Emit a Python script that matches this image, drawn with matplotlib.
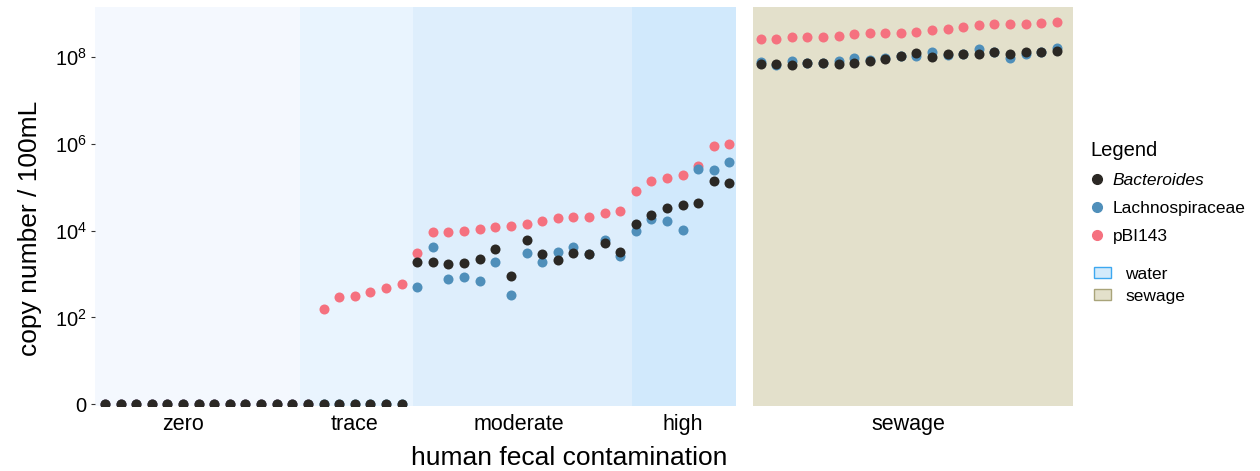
import numpy as np
import matplotlib
matplotlib.use("Agg")
import matplotlib.pyplot as plt
from matplotlib.lines import Line2D
from matplotlib.patches import Patch

plt.rcParams["font.family"] = ["Liberation Sans", "DejaVu Sans"]
plt.rcParams["mathtext.default"] = "regular"

# copy number / 100mL per sample, water samples sorted by contamination level
groups = ["zero", "trace", "moderate", "high"]
group_sizes = [13, 7, 14, 7]
group_label_pos = [6, 17, 27.5, 38]
group_edges = [13.5, 20.75, 34.75]
group_colors = ["#F4F8FE", "#E9F4FE", "#DEEEFC", "#D1E9FC"]

bact_water = [0] * 20 + [
    1940, 1880, 1720, 1810, 2280, 3800, 893, 6040, 2970, 2160, 3130, 2920, 5320, 3300,
    14600, 23100, 34100, 38700, 43800, 141000, 129000,
]
lachno_water = [0] * 20 + [
    498, 4300, 787, 861, 696, 1910, 336, 3030, 1880, 3250, 4240, 2900, 6130, 2620,
    9730, 18400, 16600, 10300, 270000, 252000, 380000,
]
pbi_water = [0] * 13 + [0, 157, 298, 314, 394, 480, 594] + [
    3030, 9530, 9530, 10000, 11200, 12000, 12900, 14600, 16600, 19400, 21100, 21100,
    25300, 28600,
    84000, 143000, 165000, 190000, 317000, 887000, 1000000,
]

bact_sewage = [
    7.01e7, 7.12e7, 6.65e7, 7.27e7, 7.27e7, 7.12e7, 7.51e7, 8.09e7, 9.29e7, 1.09e8,
    1.26e8, 1.03e8, 1.21e8, 1.17e8, 1.21e8, 1.30e8, 1.21e8, 1.30e8, 1.30e8, 1.37e8,
]
lachno_sewage = [
    7.8e7, 6.53e7, 8.09e7, 7.27e7, 7.27e7, 8.09e7, 9.64e7, 8.67e7, 9.64e7, 1.09e8,
    1.07e8, 1.30e8, 1.11e8, 1.17e8, 1.53e8, 1.30e8, 9.8e7, 1.21e8, 1.30e8, 1.64e8,
]
pbi_sewage = [
    2.64e8, 2.69e8, 2.89e8, 2.89e8, 2.98e8, 3.15e8, 3.50e8, 3.58e8, 3.58e8, 3.63e8,
    3.89e8, 4.19e8, 4.49e8, 4.92e8, 5.65e8, 5.77e8, 5.77e8, 5.95e8, 6.18e8, 6.62e8,
]

c_bact = "#2B2824"
c_lachno = "#4F8FBA"
c_pbi = "#F5717F"
c_sewage_bg = "#E3E0CB"


def fwd(v):
    return np.arcsinh(np.asarray(v, dtype=float) / 2) / np.log(10)


def inv(t):
    return 2 * np.sinh(np.asarray(t, dtype=float) * np.log(10))


fig = plt.figure(figsize=(12.6, 4.71), dpi=100)
ax1 = fig.add_axes([95 / 1260, 1 - 406 / 471, 640.7 / 1260, 398.7 / 471])
ax2 = fig.add_axes([753.3 / 1260, 1 - 406 / 471, 319.4 / 1260, 398.7 / 471])

ms = 52
x_water = np.arange(1, len(bact_water) + 1)
x_sewage = np.arange(1, len(bact_sewage) + 1)

# shaded contamination bands
lo, hi = 0.36, 41.4
edges = [lo] + group_edges + [hi]
for i, col in enumerate(group_colors):
    ax1.axvspan(edges[i], edges[i + 1], color=col, lw=0, zorder=0)
ax2.set_facecolor(c_sewage_bg)

for ax, x, b, l, p in [
    (ax1, x_water, bact_water, lachno_water, pbi_water),
    (ax2, x_sewage, bact_sewage, lachno_sewage, pbi_sewage),
]:
    ax.scatter(x, p, s=ms, color=c_pbi, lw=0, zorder=2)
    ax.scatter(x, l, s=ms, color=c_lachno, lw=0, zorder=3)
    ax.scatter(x, b, s=ms, color=c_bact, lw=0, zorder=4)
    ax.set_yscale("function", functions=(fwd, inv))
    ax.set_ylim(inv(-0.04), inv(9.15))
    for s in ax.spines.values():
        s.set_visible(False)

ax1.set_xlim(lo, hi)
ax2.set_xlim(0.525, 21.03)

yt = [0, 1e2, 1e4, 1e6, 1e8]
ax1.set_yticks(yt)
ax1.set_yticklabels(["0", "$10^2$", "$10^4$", "$10^6$", "$10^8$"], fontsize=14.5)
ax1.yaxis.set_minor_locator(matplotlib.ticker.NullLocator())
ax1.tick_params(axis="y", length=3, width=0.8, color="#333333", pad=3)
ax2.set_yticks([])
ax2.yaxis.set_minor_locator(matplotlib.ticker.NullLocator())

ax1.set_xticks(group_label_pos)
ax1.set_xticklabels(groups, fontsize=15.5)
ax2.set_xticks([np.mean(x_sewage)])
ax2.set_xticklabels(["sewage"], fontsize=15.5)
for ax in (ax1, ax2):
    ax.tick_params(axis="x", length=0, pad=6)

fig.text(30 / 1260, 1 - 228 / 471, "copy number / 100mL", rotation=90,
         ha="center", va="center", fontsize=19)
fig.text(569 / 1260, 1 - 458 / 471, "human fecal contamination",
         ha="center", va="center", fontsize=19)

# legend: sample points, then background fills
pt_handles = [
    Line2D([], [], ls="", marker="o", ms=7, color=c_bact, label="Bacteroides"),
    Line2D([], [], ls="", marker="o", ms=7, color=c_lachno, label="Lachnospiraceae"),
    Line2D([], [], ls="", marker="o", ms=7, color=c_pbi, label="pBI143"),
]
leg1 = fig.legend(handles=pt_handles, title="Legend", loc="upper left",
                  bbox_to_anchor=(1083 / 1260, 1 - 134 / 471), frameon=False,
                  fontsize=12.5, title_fontsize=14.5, handlelength=0.8,
                  handletextpad=0.5, labelspacing=0.75, borderaxespad=0)
leg1._legend_box.align = "left"
leg1.get_texts()[0].set_style("italic")

fill_handles = [
    Patch(facecolor="#D3EAFB", edgecolor="#3DA8F0", lw=1, label="water"),
    Patch(facecolor=c_sewage_bg, edgecolor="#A9A47A", lw=1, label="sewage"),
]
fig.legend(handles=fill_handles, loc="upper left",
           bbox_to_anchor=(1087 / 1260, 1 - 260 / 471), frameon=False,
           fontsize=12.5, handlelength=1.0, handleheight=0.6,
           handletextpad=0.8, labelspacing=0.4, borderaxespad=0)

fig.savefig("out.png", dpi=100)
